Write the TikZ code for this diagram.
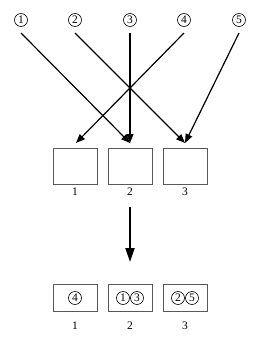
\documentclass[tikz,border=0pt]{standalone}
\usepackage{fontspec}
\setmainfont{Liberation Serif}
\usetikzlibrary{arrows.meta}
\begin{document}
\begin{tikzpicture}[x=1pt,y=-1pt,
  circ/.style={circle,draw,line width=0.6pt,inner sep=0pt,minimum size=13pt,font=\fontsize{11.5}{11.5}\selectfont},
  slot/.style={draw=black!65,line width=0.9pt,minimum width=44pt,minimum height=36pt,inner sep=0pt},
  slotb/.style={draw=black!65,line width=0.9pt,minimum width=44pt,minimum height=27pt,inner sep=0pt},
  lbl/.style={font=\fontsize{11.5}{11.5}\selectfont,inner sep=0pt},
  arr/.style={line width=1.2pt,-{Triangle[length=9pt,width=7pt]}},
  big/.style={line width=2pt,-{Triangle[length=14pt,width=9pt]}}]
\useasboundingbox (0,0) rectangle (262,353);
% circled numbers
\node[circ] (c1) at (21,20) {1};
\node[circ] (c2) at (75,20) {2};
\node[circ] (c3) at (130,20) {3};
\node[circ] (c4) at (184,20) {4};
\node[circ] (c5) at (239,20) {5};
\coordinate (s1) at (21,33);
\coordinate (s2) at (75,33);
\coordinate (s3) at (130,33);
\coordinate (s4) at (184,33);
\coordinate (s5) at (239,33);
% top boxes
\node[slot] (b1) at (75,166) {};
\node[slot] (b2) at (130,166) {};
\node[slot] (b3) at (185,166) {};
\node[lbl] (l1) at (75,192) {1};
\node[lbl] (l2) at (130,192) {2};
\node[lbl] (l3) at (185,192) {3};
\coordinate (e1) at (76,143);
\coordinate (e2) at (130,143);
\coordinate (e3) at (185,143);
\draw[arr] (s1) -- (e2);
\draw[arr] (s2) -- (e3);
\draw[arr] (s3) -- (e2);
\draw[arr] (s4) -- (e1);
\draw[arr] (s5) -- (e3);
% big arrow
\coordinate (p1) at (130,207);
\coordinate (p2) at (130,262);
\draw[big] (p1) -- (p2);
% bottom boxes
\node[slotb] (d1) at (75,297.5) {};
\node[slotb] (d2) at (130,297.5) {};
\node[slotb] (d3) at (185,297.5) {};
\node[circ] (k4) at (75,298) {4};
\node[circ] (k1) at (123,298) {1};
\node[circ] (k3) at (137,298) {3};
\node[circ] (k2) at (178,298) {2};
\node[circ] (k5) at (192,298) {5};
\node[lbl] (m1) at (75,326) {1};
\node[lbl] (m2) at (130,326) {2};
\node[lbl] (m3) at (185,326) {3};
\end{tikzpicture}
\end{document}
